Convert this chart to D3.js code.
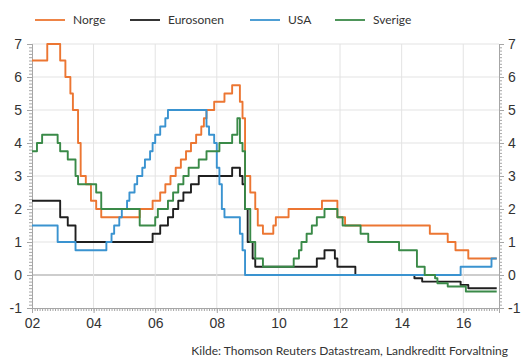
<!DOCTYPE html>
<html lang="no">
<head>
<meta charset="utf-8">
<title>Styringsrenter</title>
<script src="https://d3js.org/d3.v7.min.js"></script>
<style>
  body { margin: 0; background: #fff; }
  svg { display: block; font-family: Lato, "Open Sans", sans-serif; }
</style>
</head>
<body>
<svg width="525" height="358"></svg>
<script>
// rentenivå ved hver endring (måned, prosent)
const norge = [
  ["2002-01", 6.5], ["2002-07", 7.0], ["2002-12", 6.5], ["2003-02", 6.0], ["2003-04", 5.5],
  ["2003-05", 5.0], ["2003-07", 4.0], ["2003-08", 3.0], ["2003-10", 2.75], ["2003-12", 2.25],
  ["2004-02", 2.0], ["2004-04", 1.75], ["2005-07", 2.0], ["2005-12", 2.25], ["2006-03", 2.5],
  ["2006-05", 2.75], ["2006-07", 3.0], ["2006-09", 3.25], ["2006-11", 3.5], ["2007-01", 3.75],
  ["2007-03", 4.0], ["2007-05", 4.25], ["2007-07", 4.5], ["2007-08", 4.75], ["2007-09", 5.0],
  ["2007-12", 5.25], ["2008-04", 5.5], ["2008-07", 5.75], ["2008-10", 5.25], ["2008-11", 4.75],
  ["2008-12", 3.0], ["2009-02", 2.5], ["2009-04", 2.0], ["2009-05", 1.5], ["2009-07", 1.25],
  ["2009-11", 1.5], ["2009-12", 1.75], ["2010-05", 2.0], ["2011-06", 2.25], ["2011-12", 1.75],
  ["2012-03", 1.5], ["2014-12", 1.25], ["2015-07", 1.0], ["2015-10", 0.75], ["2016-03", 0.5],
  ["2017-02", 0.5]
];
const eurosonen = [
  ["2002-01", 2.25], ["2002-12", 1.75], ["2003-03", 1.5], ["2003-06", 1.0], ["2005-12", 1.25],
  ["2006-03", 1.5], ["2006-06", 1.75], ["2006-08", 2.0], ["2006-10", 2.25], ["2006-12", 2.5],
  ["2007-03", 2.75], ["2007-06", 3.0], ["2008-07", 3.25], ["2008-10", 3.0], ["2008-11", 2.75],
  ["2008-12", 2.0], ["2009-01", 1.0], ["2009-03", 0.5], ["2009-04", 0.25], ["2011-04", 0.5],
  ["2011-07", 0.75], ["2011-11", 0.5], ["2011-12", 0.25], ["2012-07", 0.0], ["2014-06", -0.1],
  ["2014-09", -0.2], ["2015-12", -0.3], ["2016-03", -0.4], ["2017-02", -0.4]
];
const usa = [
  ["2002-01", 1.5], ["2002-11", 1.0], ["2003-06", 0.75], ["2004-06", 1.0], ["2004-08", 1.25],
  ["2004-09", 1.5], ["2004-11", 1.75], ["2004-12", 2.0], ["2005-02", 2.25], ["2005-03", 2.5],
  ["2005-05", 2.75], ["2005-06", 3.0], ["2005-08", 3.25], ["2005-09", 3.5], ["2005-11", 3.75],
  ["2005-12", 4.0], ["2006-01", 4.25], ["2006-03", 4.5], ["2006-05", 4.75], ["2006-06", 5.0],
  ["2007-09", 4.5], ["2007-10", 4.25], ["2007-12", 4.0], ["2008-01", 3.25], ["2008-02", 2.75],
  ["2008-03", 2.0], ["2008-04", 1.75], ["2008-10", 1.25], ["2008-11", 0.75], ["2008-12", 0.0],
  ["2015-12", 0.25], ["2016-12", 0.5], ["2017-02", 0.5]
];
const sverige = [
  ["2002-01", 3.75], ["2002-03", 4.0], ["2002-05", 4.25], ["2002-11", 4.0], ["2002-12", 3.75],
  ["2003-03", 3.5], ["2003-06", 3.0], ["2003-07", 2.75], ["2004-02", 2.5], ["2004-04", 2.0],
  ["2005-07", 1.5], ["2006-01", 1.75], ["2006-02", 2.0], ["2006-06", 2.25], ["2006-08", 2.5],
  ["2006-10", 2.75], ["2006-12", 3.0], ["2007-02", 3.25], ["2007-06", 3.5], ["2007-09", 3.75],
  ["2008-02", 4.0], ["2008-07", 4.25], ["2008-09", 4.75], ["2008-10", 4.0], ["2008-11", 3.75],
  ["2008-12", 2.0], ["2009-02", 1.0], ["2009-04", 0.5], ["2009-07", 0.25], ["2010-07", 0.5],
  ["2010-09", 0.75], ["2010-10", 1.0], ["2010-12", 1.25], ["2011-02", 1.5], ["2011-04", 1.75],
  ["2011-07", 2.0], ["2011-12", 1.75], ["2012-02", 1.5], ["2012-09", 1.25], ["2012-12", 1.0],
  ["2013-12", 0.75], ["2014-07", 0.25], ["2014-10", 0.0], ["2015-02", -0.1], ["2015-03", -0.25],
  ["2015-07", -0.35], ["2016-02", -0.5], ["2017-02", -0.5]
];

const seriesNames = ["Norge", "Eurosonen", "USA", "Sverige"];
const seriesColors = ["#ec7632", "#1f1f1f", "#3a93d0", "#3a8a48"];
const yTicks = [-1, 0, 1, 2, 3, 4, 5, 6, 7];
const source = "Kilde: Thomson Reuters Datastream, Landkreditt Forvaltning";

const parse = d3.timeParse("%Y-%m");
const allSeries = [norge, eurosonen, usa, sverige].map(s => s.map(d => ({date: parse(d[0]), value: d[1]})));

const svg = d3.select("svg");
const plotLeft = 32, plotRight = 499, plotTop = 44, plotBottom = 308;

const x = d3.scaleTime()
    .domain([parse("2002-01"), new Date(2017, 1, 28)])
    .range([plotLeft, plotRight]);
const y = d3.scaleLinear()
    .domain([-1, 7])
    .range([plotBottom, plotTop]);

// gridlines
svg.append("g")
  .selectAll("line")
  .data(yTicks.filter(v => v > -1))
  .join("line")
  .attr("x1", plotLeft).attr("x2", plotRight)
  .attr("y1", d => y(d)).attr("y2", d => y(d))
  .attr("stroke", d => d === 0 ? "#bdbdbd" : "#e3e3e3")
  .attr("stroke-width", d => d === 0 ? 1.6 : 1);

svg.append("g")
  .selectAll("line")
  .data(d3.timeYear.every(2).range(parse("2004-01"), parse("2017-01")))
  .join("line")
  .attr("x1", d => x(d)).attr("x2", d => x(d))
  .attr("y1", plotTop).attr("y2", plotBottom)
  .attr("stroke", "#e3e3e3");

// axes
const axisStyle = g => {
  g.select(".domain").attr("stroke", "#a6a6a6");
  g.selectAll(".tick line").attr("stroke", "#a6a6a6");
  g.selectAll("text").attr("fill", "#333").style("font-size", "14px");
};

// minor ticks
svg.append("g")
  .attr("transform", `translate(${plotLeft},0)`)
  .call(d3.axisLeft(y).ticks(80).tickSize(3).tickFormat(""))
  .call(axisStyle);
svg.append("g")
  .attr("transform", `translate(${plotRight},0)`)
  .call(d3.axisRight(y).ticks(80).tickSize(3).tickFormat(""))
  .call(axisStyle);
svg.append("g")
  .attr("transform", `translate(0,${plotBottom})`)
  .call(d3.axisBottom(x).ticks(d3.timeMonth.every(1)).tickSize(3).tickFormat(""))
  .call(axisStyle);

svg.append("g")
  .attr("transform", `translate(${plotLeft},0)`)
  .call(d3.axisLeft(y).tickValues(yTicks).tickSize(5).tickPadding(5).tickFormat(d => String(d)))
  .call(axisStyle);
svg.append("g")
  .attr("transform", `translate(${plotRight},0)`)
  .call(d3.axisRight(y).tickValues(yTicks).tickSize(5).tickPadding(4).tickFormat(d => String(d)))
  .call(axisStyle);
svg.append("g")
  .attr("transform", `translate(0,${plotBottom})`)
  .call(d3.axisBottom(x).ticks(d3.timeYear.every(2)).tickSize(5).tickPadding(5).tickFormat(d3.timeFormat("%y")))
  .call(axisStyle);

// lines
const line = d3.line()
    .x(d => x(d.date))
    .y(d => y(d.value))
    .curve(d3.curveStepAfter);

svg.append("g")
  .selectAll("path")
  .data(allSeries)
  .join("path")
  .attr("d", line)
  .attr("fill", "none")
  .attr("stroke", (d, i) => seriesColors[i])
  .attr("stroke-width", 1.9)
  .attr("stroke-linejoin", "round");

// legend
const legendX = [35, 130, 250, 335];
const legend = svg.append("g")
  .selectAll("g")
  .data(seriesNames)
  .join("g")
  .attr("transform", (d, i) => `translate(${legendX[i]},20)`);
legend.append("line")
  .attr("x1", 0).attr("x2", 30)
  .attr("stroke", (d, i) => seriesColors[i])
  .attr("stroke-width", 1.8);
legend.append("text")
  .attr("x", 38).attr("y", 4)
  .attr("fill", "#333")
  .style("font-size", "12px")
  .text(d => d);

svg.append("text")
  .attr("x", 508).attr("y", 355)
  .attr("text-anchor", "end")
  .attr("fill", "#333")
  .style("font-size", "12px")
  .text(source);
</script>
</body>
</html>
